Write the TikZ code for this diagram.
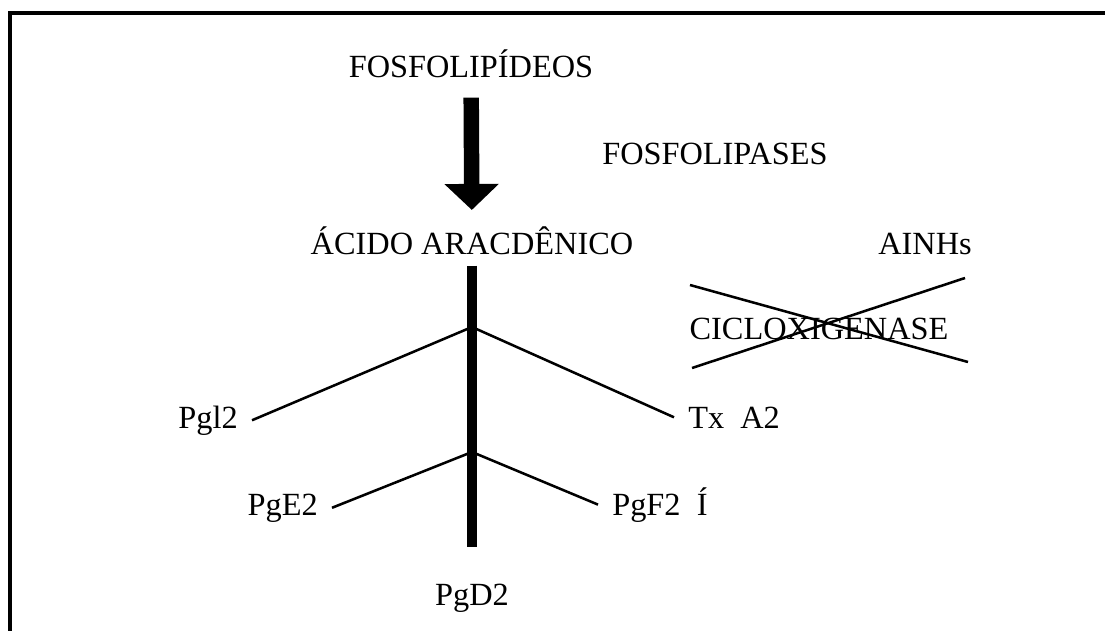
\documentclass[tikz,border=0pt]{standalone}
\usepackage{fontspec}
\setmainfont{Liberation Serif}
\usepackage{tikz}
\usetikzlibrary{arrows.meta}
\tikzset{
  lbl/.style={inner sep=0pt,font=\fontsize{23}{27}\selectfont},
  leaf/.style={lbl,inner xsep=0.35cm},
  twig/.style={line width=1.8pt},
  trunk/.style={line width=7pt},
  bigarr/.style={-{Triangle[width=37.7pt,length=18.5pt]},line width=11pt},
  strike/.style={line width=1.8pt},
  edge/.style={line width=2.4pt},
}

\begin{document}
\begin{tikzpicture}[x=0.025cm,y=-0.025cm]
    \useasboundingbox (0,0) rectangle (1105,631);
    % frame
    \draw[edge] (10,631) -- (10,13) -- (1105,13);
    % top of the pathway
    \node[lbl,anchor=base] (fosf) at (471,77) {FOSFOLIPÍDEOS};
    \node[lbl,anchor=base west] (fase) at (602,164) {FOSFOLIPASES};
    \node[lbl,anchor=base] (acido) at (472,254) {ÁCIDO ARACDÊNICO};
    \node[lbl,anchor=base] (ainh) at (925,254) {AINHs};
    \draw[bigarr,shorten <=0.5cm,shorten >=0.4cm] (fosf) -- (acido);
    % products
    \node[lbl,anchor=base] (pgd2) at (472,605) {PgD2};
    \draw[trunk,shorten <=0.275cm,shorten >=0.9cm] (acido) -- (pgd2);
    \coordinate (b1) at (472,327);
    \coordinate (b2) at (472,452);
    \node[leaf,anchor=base east] (pgi2) at (252,428) {Pgl2};
    \node[leaf,anchor=base west] (txa2) at (674,428) {Tx\ \ A2};
    \node[leaf,anchor=base east] (pge2) at (332,515) {PgE2};
    \node[leaf,anchor=base west] (pgf2) at (598,515) {PgF2\ \ Í};
    \draw[twig] (pgi2.east) -- (b1) -- (txa2.west);
    \draw[twig] (pge2.east) -- (b2) -- (pgf2.west);
    % blocked enzyme
    \node[lbl,anchor=base] (cox) at (819,339) {CICLOXIGENASE};
    \coordinate (s1) at (690,285);
    \coordinate (s2) at (968,362);
    \coordinate (s3) at (692,368);
    \coordinate (s4) at (965,278);
    \draw[strike] (s1) -- (s2);
    \draw[strike] (s3) -- (s4);
\end{tikzpicture}
\end{document}
